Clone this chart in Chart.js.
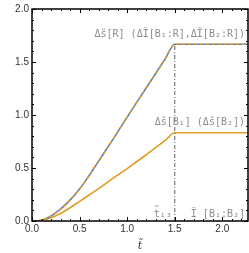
<!DOCTYPE html>
<html>
<head>
<meta charset="utf-8">
<script src="https://cdn.jsdelivr.net/npm/chart.js@4.4.0/dist/chart.umd.min.js"></script>
<style>
  html, body { margin: 0; padding: 0; background: #fff; }
  #wrap { width: 249px; height: 253px; }
</style>
</head>
<body>
<div id="wrap"><canvas id="chart" width="249" height="253"></canvas></div>
<script>
// Data
const tValues  = [0, 0.05, 0.1, 0.15, 0.2, 0.25, 0.3, 0.4, 0.5, 0.6, 0.7, 0.8, 1.0, 1.2, 1.4, 1.5, 2.27];
const sR       = [0, 0, 0.008, 0.024, 0.047, 0.078, 0.112, 0.197, 0.302, 0.428, 0.565, 0.70, 0.98, 1.255, 1.53, 1.667, 1.667];
const sB       = [0, 0, 0.006, 0.016, 0.032, 0.05, 0.07, 0.125, 0.185, 0.245, 0.305, 0.37, 0.495, 0.625, 0.76, 0.833, 0.833];
const t13      = 1.5;
const xTicks   = [0, 0.5, 1.0, 1.5, 2.0];
const yTicks   = [0, 0.5, 1.0, 1.5, 2.0];

const BLUE = '#5E81B5';
const ORANGE = '#E19C24';
const LABEL_GRAY = '#8c8c8c';

const toPts = (ys) => tValues.map((t, i) => ({ x: t, y: ys[i] }));

// frame + inward ticks, like the original
const framePlugin = {
    id: 'frame',
    afterDraw(chart) {
        const { ctx, chartArea: a, scales } = chart;
        ctx.save();
        ctx.strokeStyle = '#000';
        ctx.lineWidth = 1;
        ctx.beginPath();
        for (let v = 0; v <= 2.27 + 1e-9; v += 0.1) {
            const x = Math.round(scales.x.getPixelForValue(v)) + 0.5;
            const major = Math.abs(v / 0.5 - Math.round(v / 0.5)) < 1e-6;
            const len = major ? 4 : 2;
            ctx.moveTo(x, a.bottom); ctx.lineTo(x, a.bottom - len);
            ctx.moveTo(x, a.top); ctx.lineTo(x, a.top + len);
        }
        for (let v = 0; v <= 2.0 + 1e-9; v += 0.1) {
            const y = Math.round(scales.y.getPixelForValue(v)) + 0.5;
            const major = Math.abs(v / 0.5 - Math.round(v / 0.5)) < 1e-6;
            const len = major ? 4 : 2;
            ctx.moveTo(a.left, y); ctx.lineTo(a.left + len, y);
            ctx.moveTo(a.right, y); ctx.lineTo(a.right - len, y);
        }
        ctx.stroke();
        ctx.lineWidth = 1.5;
        ctx.strokeRect(a.left, a.top, a.right - a.left, a.bottom - a.top);

        // annotations
        ctx.fillStyle = LABEL_GRAY;
        ctx.font = '10px "DejaVu Sans Mono"';
        ctx.textBaseline = 'middle';
        ctx.textAlign = 'right';
        const xr = a.right - 3;
        ctx.fillText('Δs̆[R] (ΔĨ[B₁:R],ΔĨ[B₂:R])', xr, scales.y.getPixelForValue(sR[sR.length - 1]) - 10);
        ctx.fillText('Δs̆[B₁] (Δs̆[B₂])', xr, scales.y.getPixelForValue(sB[sB.length - 1]) - 10);
        const yb = scales.y.getPixelForValue(0) - 7;
        ctx.fillText('Ĩ [B₁:B₂]', xr, yb);
        ctx.fillText('t̃₁₃', scales.x.getPixelForValue(t13) - 3, yb);
        ctx.restore();
    }
};

// note: dataset 0 is painted last (on top)
new Chart(document.getElementById('chart').getContext('2d'), {
    type: 'line',
    data: {
        datasets: [
            {
                data: toPts(sR),
                borderColor: ORANGE,
                borderWidth: 1.6,
                borderDash: [3, 3],
                pointRadius: 0,
                cubicInterpolationMode: 'monotone'
            },
            {
                data: toPts(sR),
                borderColor: BLUE,
                borderWidth: 1.6,
                pointRadius: 0,
                cubicInterpolationMode: 'monotone'
            },
            {
                data: toPts(sB),
                borderColor: ORANGE,
                borderWidth: 1.6,
                pointRadius: 0,
                cubicInterpolationMode: 'monotone'
            },
            {
                data: [{ x: t13, y: 0 }, { x: t13, y: sR[sR.length - 1] }],
                borderColor: '#777',
                borderWidth: 1.2,
                borderDash: [4, 2, 1, 2],
                pointRadius: 0
            }
        ]
    },
    options: {
        responsive: false,
        animation: false,
        events: [],
        layout: { padding: { top: 5, right: 1, left: 0, bottom: 0 } },
        plugins: {
            legend: { display: false },
            tooltip: { enabled: false }
        },
        scales: {
            x: {
                type: 'linear',
                min: 0,
                max: 2.27,
                afterBuildTicks: (s) => { s.ticks = xTicks.map(v => ({ value: v })); },
                afterFit: (s) => { s.height = 32; },
                grid: { display: false, drawTicks: false },
                border: { display: false },
                ticks: {
                    padding: 2,
                    color: '#333',
                    font: { family: 'Liberation Sans', size: 10 },
                    maxRotation: 0,
                    callback: (v) => v.toFixed(1)
                },
                title: {
                    display: true,
                    text: 't̃',
                    color: '#333',
                    padding: { top: 3, bottom: 0 },
                    font: { family: 'DejaVu Serif', size: 11, style: 'italic' }
                }
            },
            y: {
                type: 'linear',
                min: 0,
                max: 2.0,
                afterBuildTicks: (s) => { s.ticks = yTicks.map(v => ({ value: v })); },
                afterFit: (s) => { s.width = 32; },
                grid: { display: false, drawTicks: false },
                border: { display: false },
                ticks: {
                    padding: 3,
                    color: '#333',
                    font: { family: 'Liberation Sans', size: 10 },
                    callback: (v) => v.toFixed(1)
                }
            }
        }
    },
    plugins: [framePlugin]
});
</script>
</body>
</html>
